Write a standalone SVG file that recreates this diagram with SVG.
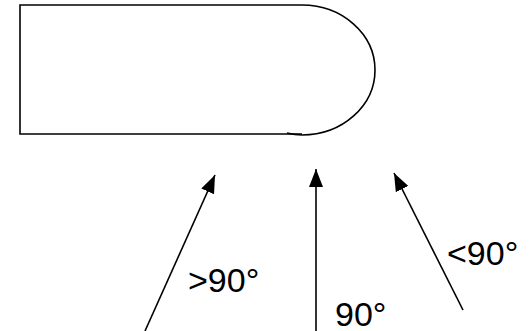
<svg xmlns="http://www.w3.org/2000/svg" width="529" height="331" viewBox="0 0 529 331">
<style>
.ln{fill:none;stroke:#000;stroke-width:1.6}
.lbl{font-family:"Liberation Sans",Arial,sans-serif;font-size:34px;fill:#000}
</style>
<defs>
<marker id="ah" markerUnits="userSpaceOnUse" markerWidth="20" markerHeight="16" refX="18" refY="7" orient="auto">
<path d="M0,0 L18,7 L0,14 Z" fill="#000"/>
</marker>
</defs>
<rect width="529" height="331" fill="#fff"/>
<g id="shape">
<path class="ln" d="M302,5 H20 V134 H302"/>
<path class="ln" d="M302,5 A73,65 0 0 1 302,135 Q295,135 287,133"/>
</g>
<g id="connectors">
<line class="ln" x1="145" y1="331" x2="215" y2="175" marker-end="url(#ah)"/>
<line class="ln" x1="316" y1="331" x2="316" y2="169" marker-end="url(#ah)"/>
<line class="ln" x1="463" y1="310" x2="394" y2="173" marker-end="url(#ah)"/>
</g>
<g id="labels">
<text class="lbl" x="188" y="292">&gt;90°</text>
<text class="lbl" x="335" y="326">90°</text>
<text class="lbl" x="447" y="265">&lt;90°</text>
</g>
</svg>
